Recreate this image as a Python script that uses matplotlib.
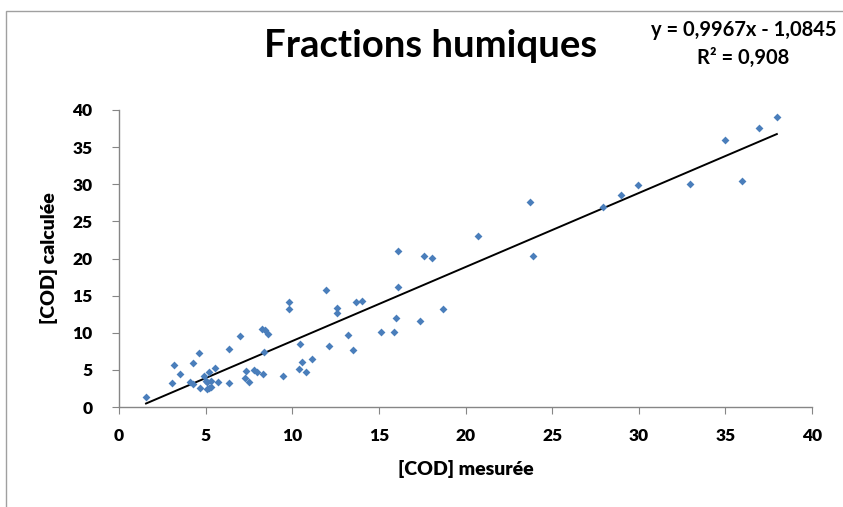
import numpy as np
import matplotlib.pyplot as plt
from matplotlib.patches import Rectangle

cod_mesuree = [1.56, 3.05, 3.2, 3.5, 4.07, 4.3, 4.3, 4.6, 4.65, 4.9, 5.0, 5.06, 5.1, 5.2, 5.2,
               5.3, 5.3, 5.54, 5.7, 6.33, 6.36, 7.0, 7.35, 7.3, 7.5, 7.8, 7.95, 8.3, 8.27, 8.4,
               8.6, 8.35, 9.44, 9.83, 9.83, 10.4, 10.46, 10.56, 10.8, 11.14, 11.96, 12.1, 12.6,
               12.6, 13.2, 13.5, 13.7, 14.0, 15.1, 15.9, 16.0, 16.1, 16.1, 17.4, 17.6, 18.05,
               18.7, 20.7, 23.75, 23.9, 27.95, 28.97, 29.96, 32.96, 34.95, 35.96, 36.96, 37.97]
cod_calculee = [1.3, 3.2, 5.6, 4.4, 3.4, 5.9, 3.1, 7.3, 2.6, 4.2, 3.5, 3.3, 2.4, 4.7, 2.55,
                3.45, 2.75, 5.25, 3.3, 7.8, 3.2, 9.5, 4.8, 3.95, 3.4, 5.0, 4.65, 4.45, 10.5, 10.4,
                9.8, 7.4, 4.2, 14.1, 13.2, 5.1, 8.5, 6.0, 4.65, 6.4, 15.7, 8.25, 13.4,
                12.6, 9.65, 7.7, 14.1, 14.3, 10.1, 10.05, 11.95, 21.0, 16.2, 11.55, 20.3, 20.05,
                13.2, 23.0, 27.6, 20.3, 27.0, 28.5, 29.95, 30.05, 36.0, 30.5, 37.6, 39.1]

# trend line as printed on the chart
pente = 0.9967
ordonnee = -1.0845
eq_text = "y = 0,9967x - 1,0845"
r2_text = "R² = 0,908"

ticks = [0, 5, 10, 15, 20, 25, 30, 35, 40]

plt.rcParams['font.family'] = ['Lato', 'DejaVu Sans']
plt.rcParams['font.weight'] = 'bold'

fig = plt.figure(figsize=(8.43, 5.07), dpi=100)
ax = fig.add_axes([119 / 843, 1 - 407 / 507, (812 - 119) / 843, (407 - 110) / 507])

# chart area border (Excel style)
fig.patches.append(Rectangle((6 / 843, -0.1), 1.2, 1 - 11 / 507 + 0.1, transform=fig.transFigure,
                             fill=False, edgecolor='#a0a0a0', linewidth=1.0))

ax.scatter(cod_mesuree, cod_calculee, marker='D', s=16, color='#4a7ebb', zorder=3, linewidths=0)

xl = np.array([min(cod_mesuree), max(cod_mesuree)])
ax.plot(xl, pente * xl + ordonnee, color='black', linewidth=1.4, zorder=2)

ax.set_xlim(0, 40)
ax.set_ylim(0, 40)
ax.set_xticks(ticks)
ax.set_yticks(ticks)
ax.set_xticklabels([str(t) for t in ticks], fontsize=12.5, fontweight='heavy')
ax.set_yticklabels([str(t) for t in ticks], fontsize=12.5, fontweight='heavy')
for s in ['top', 'right']:
    ax.spines[s].set_visible(False)
for s in ['left', 'bottom']:
    ax.spines[s].set_color('#868686')
    ax.spines[s].set_linewidth(1.0)
ax.tick_params(direction='out', length=5, color='#868686')
ax.tick_params(axis='x', pad=10)
ax.tick_params(axis='y', pad=14)

ax.set_xlabel("[COD] mesurée", fontsize=14, fontweight='heavy', labelpad=12)
ax.set_ylabel("[COD] calculée", fontsize=14, fontweight='heavy', labelpad=10)

fig.text(431 / 843, 1 - 46 / 507, "Fractions humiques", ha='center', va='center',
         fontsize=27.5, fontweight='bold')
fig.text(744 / 843, 1 - 30 / 507, eq_text, ha='center', va='center', fontsize=14.5, fontweight='bold')
fig.text(743 / 843, 1 - 58 / 507, r2_text, ha='center', va='center', fontsize=14.5, fontweight='bold')

fig.savefig("out.png", dpi=100)
